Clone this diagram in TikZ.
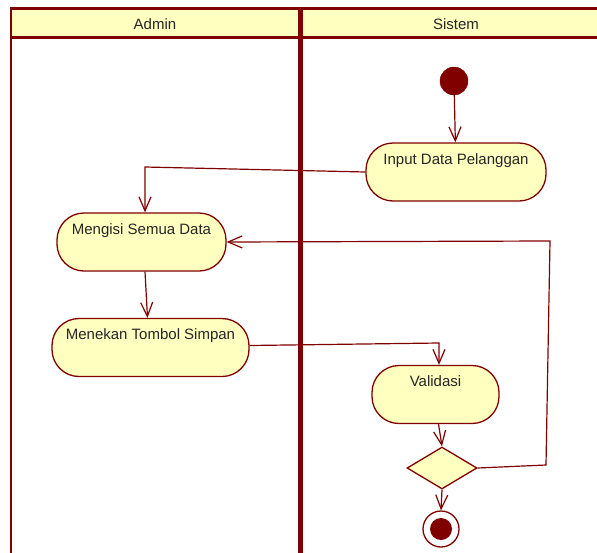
\documentclass[tikz,border=0pt]{standalone}
\usepackage{fontspec}
\setmainfont{Liberation Sans}
\usetikzlibrary{shapes.geometric,arrows.meta,calc}
\definecolor{umlred}{HTML}{800000}
\definecolor{umlfill}{HTML}{FFFFC0}
\begin{document}
\begin{tikzpicture}[x=1pt,y=-1pt,
  font=\fontsize{15}{18}\selectfont,
  lane/.style={draw=umlred, line width=2.6pt},
  head/.style={draw=umlred, fill=umlfill, line width=2.6pt},
  act/.style={draw=umlred, fill=umlfill, line width=1.3pt, rounded corners=27pt,
    inner sep=0pt, text height=21pt, text depth=37pt, text=black!85},
  flow/.style={draw=umlred, line width=1.2pt, -{Straight Barb[length=14pt,width=12pt]}},
  startnode/.style={circle, draw=umlred, fill=umlred, minimum size=28pt, inner sep=0pt},
  decision/.style={diamond, draw=umlred, fill=umlfill, line width=1.3pt,
    minimum width=70pt, minimum height=42pt, inner sep=0pt},
  endring/.style={circle, draw=umlred, fill=white, line width=1.3pt, minimum size=36pt, inner sep=0pt},
  enddot/.style={circle, fill=umlred, minimum size=22pt, inner sep=0pt},
  lanetitle/.style={anchor=base, text=black!85}]
\useasboundingbox (0,0) rectangle (597,552);
\clip (0,0) rectangle (597,552);
\fill[white] (0,0) rectangle (597,552);

% swimlanes
\draw[lane] (11,8.5) rectangle (299,570);
\draw[lane] (301.3,8.5) rectangle (640,570);
\draw[head] (11,8.5) rectangle (299,37.5);
\draw[head] (301.3,8.5) rectangle (640,37.5);
\node[lanetitle] (tAdmin) at (155,29.5) {Admin};
\node[lanetitle] (tSistem) at (456,29.5) {Sistem};

% activities
\node[startnode] (start) at (454,81) {};
\node[act, minimum width=180pt] (inp) at (456,172) {Input Data Pelanggan};
\node[act, minimum width=169pt] (meng) at (141.5,242) {Mengisi Semua Data};
\node[act, minimum width=197pt] (tekan) at (150.5,347.5) {Menekan Tombol Simpan};
\node[act, minimum width=127pt] (val) at (435.5,394.5) {Validasi};
\node[decision] (dec) at (442,468) {};
\node[endring] (fin) at (441,529) {};
\node[enddot] (findot) at (fin) {};

% flows
\coordinate (c1) at (145,167);
\coordinate (c2) at (439,343);
\coordinate (c3) at (546,465);
\coordinate (c4) at (550,241);
\draw[flow] (start) -- (inp);
\draw[flow] (inp.west) -- (c1) -- (c1 |- meng.north);
\draw[flow] ([xshift=3.5pt]meng.south) -- ([xshift=-3pt]tekan.north);
\draw[flow] ([yshift=2pt]tekan.east) -- (c2) -- (c2 |- val.north);
\draw[flow] ([xshift=3pt]val.south) -- (dec.north);
\draw[flow] (dec.south) -- (fin.north);
\draw[flow] (dec.east) -- (c3) -- (c4) -- (meng.east);
\end{tikzpicture}
\end{document}
